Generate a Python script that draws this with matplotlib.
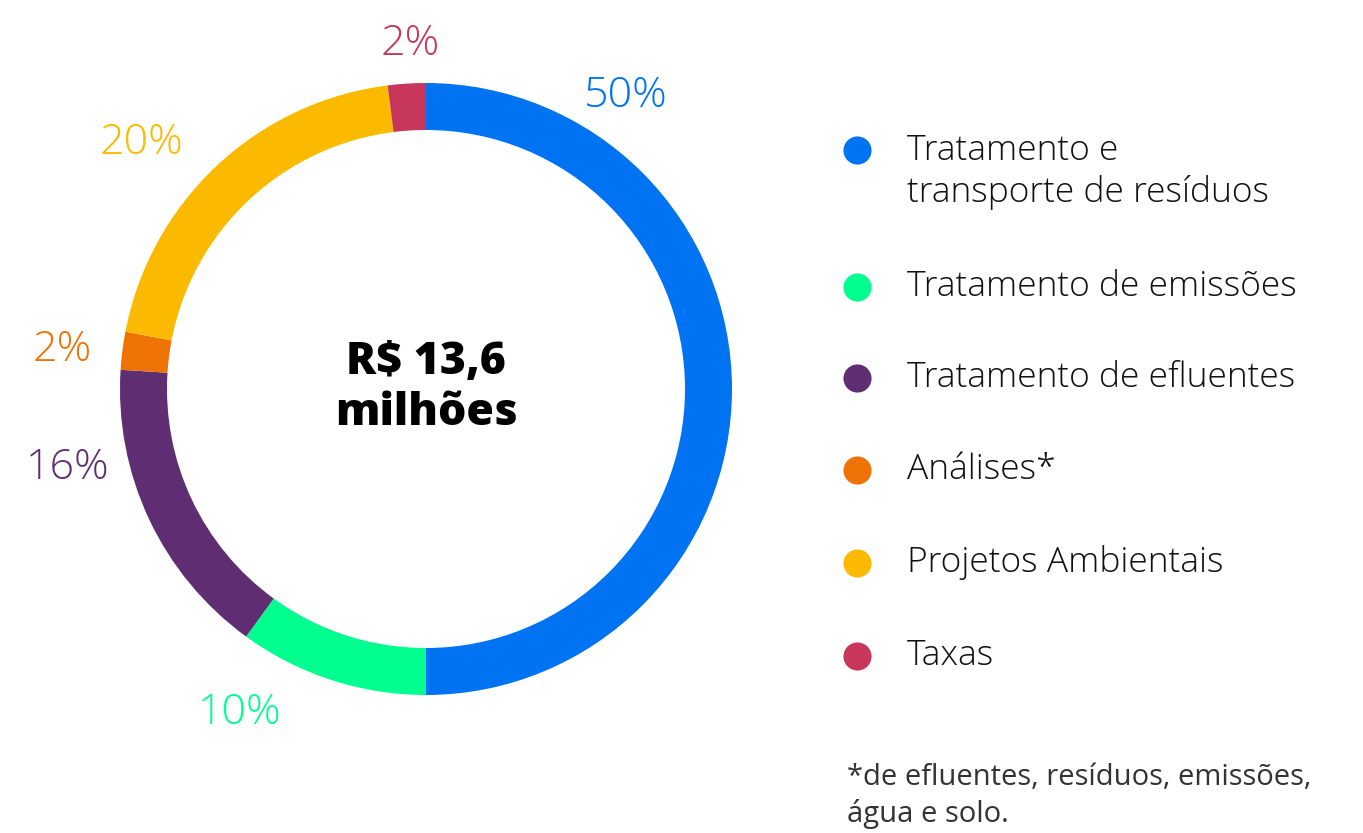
import matplotlib.pyplot as plt

W, H = 1363, 833

categories = ['Tratamento e\ntransporte de resíduos', 'Tratamento de emissões',
              'Tratamento de efluentes', 'Análises*', 'Projetos Ambientais', 'Taxas']
shares = [50, 10, 16, 2, 20, 2]
colors = ['#0073F2', '#00FF8F', '#5E2D72', '#EF7204', '#FBB900', '#C7375C']
total_text = 'R$ 13,6\nmilhões'
footnote = '*de efluentes, resíduos, emissões,\nágua e solo.'

# label positions in pixels (x, y from top)
label_pos = [(626, 96), (240, 713), (68, 468), (62, 350), (142, 143), (410, 44)]
legend_rows = [172, 287, 378, 470, 563, 656]

font = 'Open Sans'


def py(y):
    return H - y


fig = plt.figure(figsize=(W / 100, H / 100), dpi=100)
ax = fig.add_axes([0, 0, 1, 1])

ax.pie(shares, colors=colors, startangle=90, counterclock=False,
       center=(426, py(389)), radius=306, frame=True,
       wedgeprops=dict(width=47, linewidth=0))
ax.set_xlim(0, W)
ax.set_ylim(0, H)
ax.set_aspect('equal')
ax.axis('off')

for v, c, (x, y) in zip(shares, colors, label_pos):
    ax.text(x, py(y), f'{v}%', color=c, fontsize=31, family=font,
            fontweight='light', ha='center', va='center')

ax.text(426, py(388), total_text, ha='center', va='center', fontsize=32,
        fontweight='heavy', family=font, linespacing=1.15, color='black')

# legend
for lab, c, y in zip(categories, colors, legend_rows):
    ax.scatter([857], [py(y if '\n' not in lab else 150)], s=410, color=c,
               linewidths=0)
    ax.text(907, py(y), lab, ha='left', va='center', fontsize=25.5,
            family=font, fontweight='light', linespacing=1.25, color='#111111')

ax.text(847, py(796), footnote, ha='left', va='center', fontsize=21,
        family=font, linespacing=1.3, color='#333333')

fig.savefig('out.png', dpi=100)
